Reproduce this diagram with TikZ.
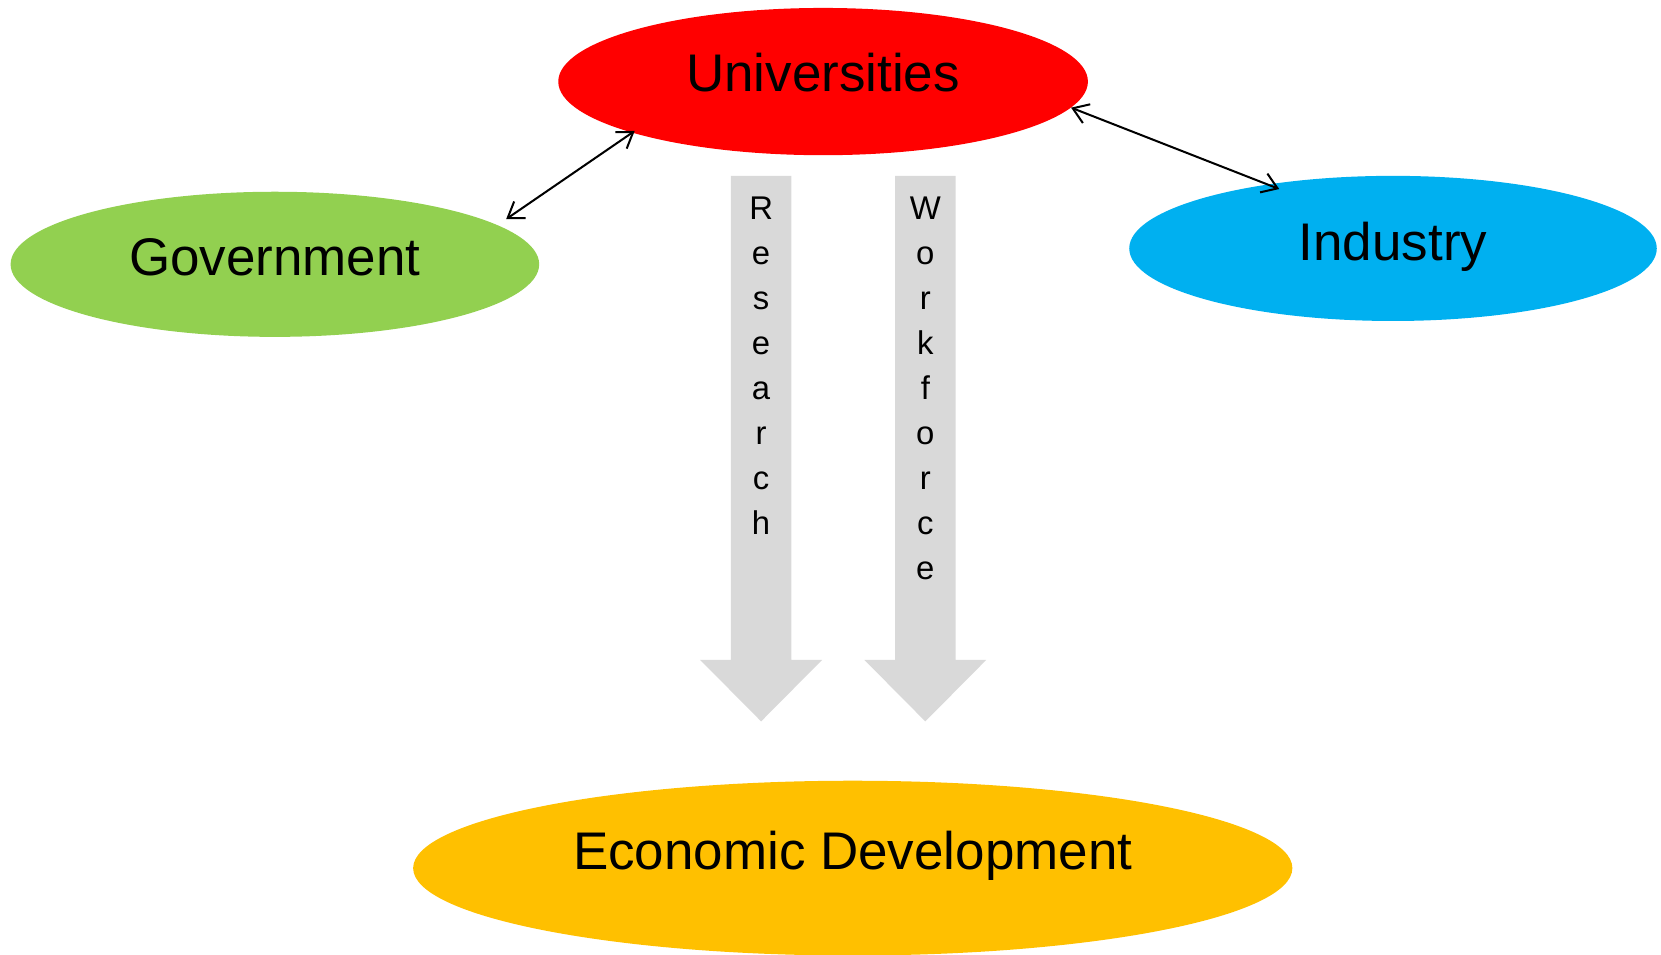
\documentclass[tikz,border=0pt]{standalone}
\usepackage{fontspec}
\setmainfont{Liberation Sans}
\usetikzlibrary{shapes.geometric,arrows.meta}
\definecolor{unired}{HTML}{FF0000}
\definecolor{govgreen}{HTML}{92D050}
\definecolor{indblue}{HTML}{00B0F0}
\definecolor{ecogold}{HTML}{FFC000}
\definecolor{flowgray}{HTML}{D9D9D9}
\begin{document}
\begin{tikzpicture}[x=1pt,y=-1pt,
  blob/.style={ellipse,inner sep=0pt,draw=none,font=\fontsize{50}{60}\selectfont,text height=36pt},
  flowbar/.style={fill=flowgray,draw=none},
  flowtext/.style={inner sep=0pt,anchor=north,align=center,font=\fontsize{31}{42.5}\selectfont},
  link/.style={line width=1.9pt,{Straight Barb[length=14pt,width=19pt]}-{Straight Barb[length=14pt,width=19pt]}}]
\useasboundingbox (0,0) rectangle (1568,900.6);
\node[blob,fill=unired,minimum width=500pt,minimum height=139pt,text depth=17pt] (uni) at (777,77) {Universities};
\node[blob,fill=govgreen,minimum width=499pt,minimum height=137pt,text depth=15pt] (gov) at (259.5,249.5) {Government};
\node[blob,fill=indblue,minimum width=498pt,minimum height=137pt,text depth=14pt] (ind) at (1315,234.5) {Industry};
\node[blob,fill=ecogold,minimum width=830pt,minimum height=165pt,text depth=34pt] (eco) at (805,819.5) {Economic Development};
% block arrows
\fill[flowbar] (690,166) -- (747,166) -- (747,623) -- (776,623) -- (718.5,681) -- (661,623) -- (690,623) -- cycle;
\fill[flowbar] (845,166) -- (902,166) -- (902,623) -- (931,623) -- (873.5,681) -- (816,623) -- (845,623) -- cycle;
\node[flowtext] (res) at (718.5,185.5) {R\\e\\s\\e\\a\\r\\c\\h};
\node[flowtext] (wf) at (873.5,185.5) {W\\o\\r\\k\\f\\o\\r\\c\\e};
% connectors
\draw[link,shorten <=9.8pt,shorten >=-3pt] (gov.10.9) -- (uni.195.5);
\draw[link,shorten >=-12pt] (uni.-6.5) -- (ind.153);
\end{tikzpicture}
\end{document}
